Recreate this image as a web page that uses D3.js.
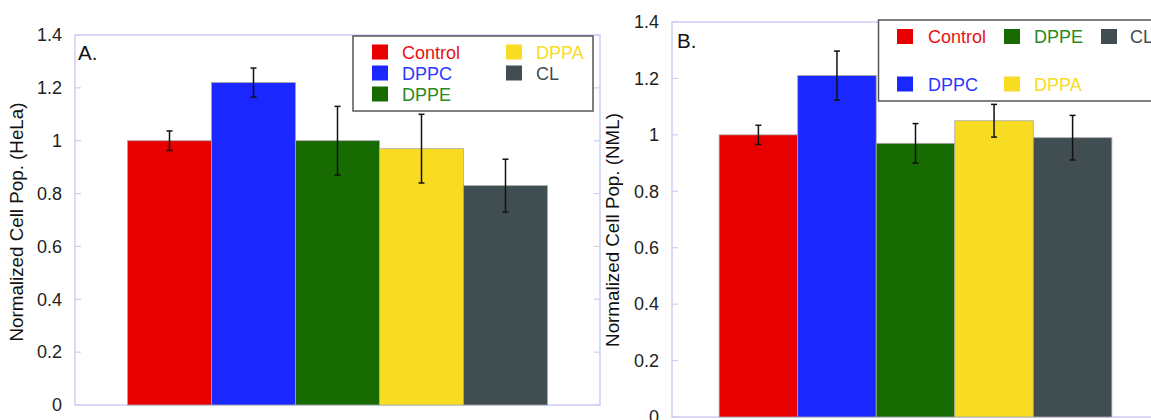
<!DOCTYPE html>
<html>
<head>
<meta charset="utf-8">
<script src="https://cdn.jsdelivr.net/npm/d3@7"></script>
<style>
  html, body { margin: 0; padding: 0; background: #fff; }
  svg { display: block; font-family: "Liberation Sans", Arial, sans-serif; }
</style>
</head>
<body>
<svg id="chart" width="1151" height="420"></svg>
<script>
const categories = ["Control", "DPPC", "DPPE", "DPPA", "CL"];
const helaValues = [1.00, 1.22, 1.00, 0.97, 0.83];
const helaErrors = [0.037, 0.055, 0.13, 0.13, 0.10];
const nmlValues  = [1.00, 1.21, 0.97, 1.05, 0.99];
const nmlErrors  = [0.034, 0.087, 0.07, 0.058, 0.079];
const yTicks = [0, 0.2, 0.4, 0.6, 0.8, 1, 1.2, 1.4];
const yTickLabels = ["0", "0.2", "0.4", "0.6", "0.8", "1", "1.2", "1.4"];
const barColors = ["#e80000", "#1a28ff", "#176b00", "#f8dc22", "#404e52"];
const textColors = ["#e81010", "#2a38ff", "#2a8a1a", "#f8dc22", "#404e52"];

const svg = d3.select("#chart");

const panels = [
  {
    label: "A.", title: "Normalized Cell Pop. (HeLa)",
    values: helaValues, errors: helaErrors,
    left: 75, right: 600, top: 35, bottom: 405, padOuter: 0.625,
    labelX: 78, labelY: 60, titleX: 23, titleY: 222,
    legend: { x: 353, y: 36, w: 240, h: 75,
      items: [
        { i: 0, sx: 372, tx: 402, cy: 52 },
        { i: 1, sx: 372, tx: 402, cy: 73 },
        { i: 2, sx: 372, tx: 402, cy: 94 },
        { i: 3, sx: 506, tx: 536, cy: 52 },
        { i: 4, sx: 506, tx: 536, cy: 73 }
      ] }
  },
  {
    label: "B.", title: "Normalized Cell Pop. (NML)",
    values: nmlValues, errors: nmlErrors,
    left: 672, right: 1159, top: 22, bottom: 417, padOuter: 0.6,
    labelX: 677, labelY: 48, titleX: 619, titleY: 230,
    legend: { x: 878.5, y: 20, w: 320, h: 81,
      items: [
        { i: 0, sx: 897, tx: 928, cy: 36.5 },
        { i: 1, sx: 897, tx: 928, cy: 84 },
        { i: 2, sx: 1004, tx: 1034, cy: 36.5 },
        { i: 3, sx: 1004, tx: 1034, cy: 84 },
        { i: 4, sx: 1101, tx: 1130, cy: 36.5 }
      ] }
  }
];

panels.forEach(p => {
  const g = svg.append("g");
  const x = d3.scaleBand().domain(categories).range([p.left, p.right])
    .paddingInner(0).paddingOuter(p.padOuter);
  const y = d3.scaleLinear().domain([0, 1.4]).range([p.bottom, p.top]);

  // frame
  g.append("rect")
    .attr("x", p.left).attr("y", p.top)
    .attr("width", p.right - p.left).attr("height", p.bottom - p.top)
    .attr("fill", "none").attr("stroke", "#cdcdf6").attr("stroke-width", 1.5);

  // inner ticks left & right
  const tickSel = g.append("g");
  yTicks.forEach(t => {
    tickSel.append("line")
      .attr("x1", p.left).attr("x2", p.left + 6)
      .attr("y1", y(t)).attr("y2", y(t))
      .attr("stroke", "#cdcdf6").attr("stroke-width", 1.2);
    tickSel.append("line")
      .attr("x1", p.right).attr("x2", p.right - 6)
      .attr("y1", y(t)).attr("y2", y(t))
      .attr("stroke", "#cdcdf6").attr("stroke-width", 1.2);
  });

  // tick labels via axis
  const axis = d3.axisLeft(y).tickValues(yTicks)
    .tickFormat((d, i) => yTickLabels[i]).tickSize(0).tickPadding(13);
  const ag = g.append("g").attr("transform", `translate(${p.left},0)`).call(axis);
  ag.select(".domain").remove();
  ag.selectAll("text")
    .attr("font-size", 18).attr("fill", "#222")
    .attr("font-family", "'Liberation Sans', Arial, sans-serif");

  // bars
  g.selectAll("rect.bar").data(categories).enter().append("rect")
    .attr("class", "bar")
    .attr("x", d => x(d))
    .attr("width", x.bandwidth())
    .attr("y", (d, i) => y(p.values[i]))
    .attr("height", (d, i) => y(0) - y(p.values[i]))
    .attr("fill", (d, i) => barColors[i])
    .attr("stroke", "#a8a8a8").attr("stroke-width", 0.8);

  // error bars
  const eg = g.append("g").attr("stroke", "#111").attr("stroke-width", 1.5);
  categories.forEach((c, i) => {
    const cx = x(c) + x.bandwidth() / 2;
    const hi = y(p.values[i] + p.errors[i]);
    const lo = y(p.values[i] - p.errors[i]);
    eg.append("line").attr("x1", cx).attr("x2", cx).attr("y1", hi).attr("y2", lo);
    eg.append("line").attr("x1", cx - 3).attr("x2", cx + 3).attr("y1", hi).attr("y2", hi);
    eg.append("line").attr("x1", cx - 3).attr("x2", cx + 3).attr("y1", lo).attr("y2", lo);
  });

  // panel label
  g.append("text").attr("x", p.labelX).attr("y", p.labelY)
    .attr("font-size", 20.5).attr("fill", "#111").text(p.label);

  // y title
  g.append("text")
    .attr("transform", `translate(${p.titleX},${p.titleY}) rotate(-90)`)
    .attr("text-anchor", "middle")
    .attr("font-size", 18.8).attr("fill", "#111").text(p.title);

  // legend
  const L = p.legend;
  const lg = g.append("g");
  lg.append("rect").attr("x", L.x).attr("y", L.y).attr("width", L.w).attr("height", L.h)
    .attr("fill", "#fff").attr("stroke", "#555").attr("stroke-width", 1.5);
  L.items.forEach(it => {
    lg.append("rect").attr("x", it.sx).attr("y", it.cy - 7.5)
      .attr("width", 16).attr("height", 15).attr("fill", barColors[it.i]);
    lg.append("text").attr("x", it.tx).attr("y", it.cy + 6.5)
      .attr("font-size", 18).attr("fill", textColors[it.i]).text(categories[it.i]);
  });
});
</script>
</body>
</html>
